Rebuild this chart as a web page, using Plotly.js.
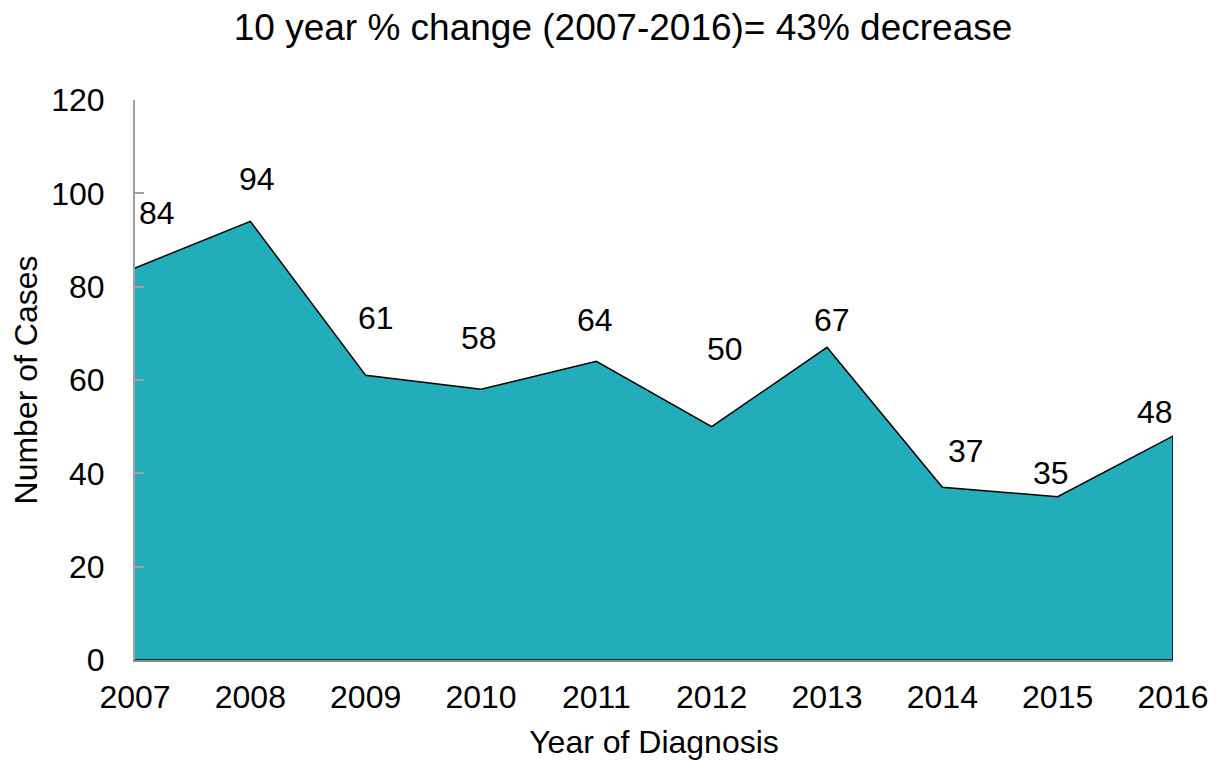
<!DOCTYPE html>
<html>
<head>
<meta charset="utf-8">
<script src="https://cdn.plot.ly/plotly-3.0.1.min.js"></script>
<style>html,body{margin:0;padding:0;background:#fff;}#chart{width:1224px;height:760px;}</style>
</head>
<body>
<div id="chart"></div>
<script>
// Data
const years = [2007, 2008, 2009, 2010, 2011, 2012, 2013, 2014, 2015, 2016];
const cases = [84, 94, 61, 58, 64, 50, 67, 37, 35, 48];
const yTicks = [0, 20, 40, 60, 80, 100, 120];
const titleText = "10 year % change (2007-2016)= 43% decrease";

// Label placement (pixel offsets from each point), layout only
const labelDx = [22, 7, 10, -2, -1, 13, 5, 24, -7, -18];
const labelDy = [-55, -42, -57, -51, -41, -78, -27, -36, -24, -24];

const FONT = "Liberation Sans, Arial, sans-serif";

const polyX = years.concat([years[years.length - 1], years[0]]);
const polyY = cases.concat([0, 0]);

const trace = {
  type: "scatter",
  mode: "lines",
  x: polyX,
  y: polyY,
  fill: "toself",
  fillcolor: "#21adb9",
  line: {color: "#000000", width: 1.5},
  hoverinfo: "skip",
  showlegend: false
};

const annotations = years.map((yr, i) => ({
  x: yr, y: cases[i], xref: "x", yref: "y",
  text: String(cases[i]),
  showarrow: false,
  xshift: labelDx[i], yshift: -labelDy[i],
  font: {family: FONT, size: 32, color: "#000"},
  xanchor: "center", yanchor: "middle"
}));

const layout = {
  width: 1224, height: 760,
  margin: {l: 135, r: 51, t: 100, b: 100},
  paper_bgcolor: "#fff", plot_bgcolor: "#fff",
  font: {family: FONT, color: "#000"},
  title: {text: titleText, font: {family: FONT, size: 37, color: "#000"}, x: 0.509, xanchor: "center", xref: "container", yref: "container", y: 0.965, yanchor: "middle"},
  xaxis: {
    range: [years[0], years[years.length - 1]],
    tickvals: years, ticktext: years.map(String),
    showgrid: false, zeroline: false,
    showline: true, linecolor: "#8c8c8c", linewidth: 2,
    ticks: "",
    ticklabelstandoff: 8,
    tickfont: {family: FONT, size: 32, color: "#000"},
    title: {text: "Year of Diagnosis", font: {family: FONT, size: 32, color: "#000"}, standoff: 20},
    fixedrange: true
  },
  yaxis: {
    range: [0, 120],
    tickvals: yTicks,
    showgrid: false, zeroline: false,
    showline: true, linecolor: "#a0a0a0", linewidth: 2,
    ticks: "inside", ticklen: 9, tickcolor: "#a0a0a0", tickwidth: 2,
    ticklabelstandoff: 22,
    tickfont: {family: FONT, size: 32, color: "#000"},
    title: {text: "Number of Cases", font: {family: FONT, size: 32, color: "#000"}, standoff: 4},
    fixedrange: true
  },
  annotations: annotations
};

Plotly.newPlot("chart", [trace], layout, {displayModeBar: false, staticPlot: true});
</script>
</body>
</html>
